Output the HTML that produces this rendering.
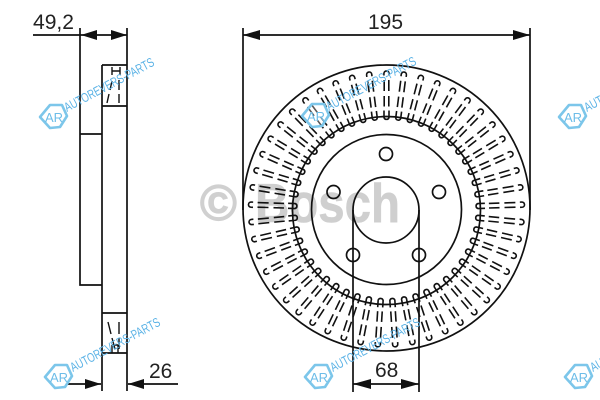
<!DOCTYPE html>
<html><head><meta charset="utf-8">
<style>
html,body{margin:0;padding:0;background:#fff}
svg{display:block;width:600px;height:400px;filter:blur(.35px)}
text{font-family:"Liberation Sans",sans-serif}
.d{font-size:21px;fill:#222}
.w{font-size:13px;fill:#5cb3e6}
</style></head><body>
<svg xmlns="http://www.w3.org/2000/svg" width="600" height="400" viewBox="0 0 600 400">
<defs>
<g id="s" fill="none" stroke="#111" stroke-width="1.6">
<path d="M384 110.5V117.5a2.6 2.6 0 0 0 5 0V110.5"/>
<path d="M384.2 106.5V96M388.8 106.5V96M384.2 91V80M388.8 91V80"/>
<path d="M383.9 75.5V73.5a2.6 2.6 0 0 1 5.2 0V75.5"/>
</g>
<g id="l">
<path d="M-4 -12H8L13 -1L6 10L-4 11L-14 0Z" fill="#fff" fill-opacity=".3" stroke="#7cc6ea" stroke-width="2.6" stroke-linejoin="round"/>
<text x="-9" y="5" font-size="13" fill="#6dbde8" style="font-family:'Liberation Sans',sans-serif">AR</text>
</g>
</defs>
<rect width="600" height="400" fill="#fff"/>
<text x="200" y="220" font-size="50" font-weight="bold" fill="#d0d0d0" stroke="#d0d0d0" stroke-width="1.2">©</text>
<text x="255" y="222" font-size="55" font-weight="bold" fill="#cfcfcf" stroke="#cfcfcf" stroke-width=".6" textLength="145" lengthAdjust="spacingAndGlyphs">Bosch</text>

<g fill="none" stroke="#111" stroke-width="1.7">
<!-- side view -->
<path d="M80 28V285H102M80 134H102M102 65V391M127 28V391M102 65H127M102 106H127M102 313H127M102 353H127"/>
<path d="M33 35H127"/>
<path d="M66 384H101M128 384H178"/>
<path d="M112 67V75M120 67V75M112 71H120M112 81L110 90M109 94L107 103M119 80V90M119 94V103" stroke-width="1.4"/>
<path d="M108 322L111 334M112 338L115 349M119 322V334M119 338V349M112 345H118M112 345V353M118 345V353" stroke-width="1.4"/>
<!-- disc -->
<ellipse cx="386.5" cy="208" rx="143.5" ry="143"/>
<circle cx="386.5" cy="210.5" r="94"/>
<circle cx="386.5" cy="209.5" r="75"/>
<circle cx="386" cy="210" r="33"/>
<circle cx="386" cy="154" r="6.5"/>
<circle cx="333.5" cy="192" r="6.5"/>
<circle cx="439" cy="192" r="6.5"/>
<circle cx="353" cy="255" r="6.5"/>
<circle cx="419" cy="255" r="6.5"/>
<!-- dimensions -->
<path d="M243 28V210M530 28V210M243 35H530"/>
<path d="M353 210V392M419 210V392M353 384H419"/>
</g>
<g fill="#111">
<path d="M81 35L97 30V40ZM127 35L111 30V40Z"/>
<path d="M243 35L260 30V40ZM530 35L513 30V40Z"/>
<path d="M353 384L371 379V389ZM419 384L401 379V389Z"/>
<path d="M101 384L85 379V389ZM128 384L144 379V389Z"/>
</g>
<g>
<use href="#s"/>
<use href="#s" transform="rotate(7.35 386.5 209)"/>
<use href="#s" transform="rotate(14.69 386.5 209)"/>
<use href="#s" transform="rotate(22.04 386.5 209)"/>
<use href="#s" transform="rotate(29.39 386.5 209)"/>
<use href="#s" transform="rotate(36.73 386.5 209)"/>
<use href="#s" transform="rotate(44.08 386.5 209)"/>
<use href="#s" transform="rotate(51.43 386.5 209)"/>
<use href="#s" transform="rotate(58.78 386.5 209)"/>
<use href="#s" transform="rotate(66.12 386.5 209)"/>
<use href="#s" transform="rotate(73.47 386.5 209)"/>
<use href="#s" transform="rotate(80.82 386.5 209)"/>
<use href="#s" transform="rotate(88.16 386.5 209)"/>
<use href="#s" transform="rotate(95.51 386.5 209)"/>
<use href="#s" transform="rotate(102.86 386.5 209)"/>
<use href="#s" transform="rotate(110.2 386.5 209)"/>
<use href="#s" transform="rotate(117.55 386.5 209)"/>
<use href="#s" transform="rotate(124.9 386.5 209)"/>
<use href="#s" transform="rotate(132.24 386.5 209)"/>
<use href="#s" transform="rotate(139.59 386.5 209)"/>
<use href="#s" transform="rotate(146.94 386.5 209)"/>
<use href="#s" transform="rotate(154.29 386.5 209)"/>
<use href="#s" transform="rotate(161.63 386.5 209)"/>
<use href="#s" transform="rotate(168.98 386.5 209)"/>
<use href="#s" transform="rotate(176.33 386.5 209)"/>
<use href="#s" transform="rotate(-7.35 386.5 209)"/>
<use href="#s" transform="rotate(-14.69 386.5 209)"/>
<use href="#s" transform="rotate(-22.04 386.5 209)"/>
<use href="#s" transform="rotate(-29.39 386.5 209)"/>
<use href="#s" transform="rotate(-36.73 386.5 209)"/>
<use href="#s" transform="rotate(-44.08 386.5 209)"/>
<use href="#s" transform="rotate(-51.43 386.5 209)"/>
<use href="#s" transform="rotate(-58.78 386.5 209)"/>
<use href="#s" transform="rotate(-66.12 386.5 209)"/>
<use href="#s" transform="rotate(-73.47 386.5 209)"/>
<use href="#s" transform="rotate(-80.82 386.5 209)"/>
<use href="#s" transform="rotate(-88.16 386.5 209)"/>
<use href="#s" transform="rotate(-95.51 386.5 209)"/>
<use href="#s" transform="rotate(-102.86 386.5 209)"/>
<use href="#s" transform="rotate(-110.2 386.5 209)"/>
<use href="#s" transform="rotate(-117.55 386.5 209)"/>
<use href="#s" transform="rotate(-124.9 386.5 209)"/>
<use href="#s" transform="rotate(-132.24 386.5 209)"/>
<use href="#s" transform="rotate(-139.59 386.5 209)"/>
<use href="#s" transform="rotate(-146.94 386.5 209)"/>
<use href="#s" transform="rotate(-154.29 386.5 209)"/>
<use href="#s" transform="rotate(-161.63 386.5 209)"/>
<use href="#s" transform="rotate(-168.98 386.5 209)"/>
<use href="#s" transform="rotate(-176.33 386.5 209)"/>
</g>
<text class="d" x="33" y="29" textLength="41" lengthAdjust="spacingAndGlyphs">49,2</text>
<text class="d" x="368" y="29">195</text>
<text class="d" x="149" y="378">26</text>
<text class="d" x="375" y="377">68</text>
<g>
<use href="#l" x="54" y="117"/>
<text class="w" transform="translate(67 112) rotate(-28)" textLength="100" lengthAdjust="spacingAndGlyphs">AUTOREVERS-PARTS</text>
<use href="#l" x="316" y="116"/>
<text class="w" transform="translate(329 111) rotate(-28)" textLength="100" lengthAdjust="spacingAndGlyphs">AUTOREVERS-PARTS</text>
<use href="#l" x="573" y="117"/>
<text class="w" transform="translate(587 112) rotate(-28)" textLength="100" lengthAdjust="spacingAndGlyphs">AUTOREVERS-PARTS</text>
<use href="#l" x="59" y="377"/>
<text class="w" transform="translate(73 372) rotate(-28)" textLength="100" lengthAdjust="spacingAndGlyphs">AUTOREVERS-PARTS</text>
<use href="#l" x="319" y="377"/>
<text class="w" transform="translate(333 372) rotate(-28)" textLength="100" lengthAdjust="spacingAndGlyphs">AUTOREVERS-PARTS</text>
<use href="#l" x="579" y="377"/>
<text class="w" transform="translate(593 372) rotate(-28)" textLength="100" lengthAdjust="spacingAndGlyphs">AUTOREVERS-PARTS</text>
</g>
</svg>
</body></html>
